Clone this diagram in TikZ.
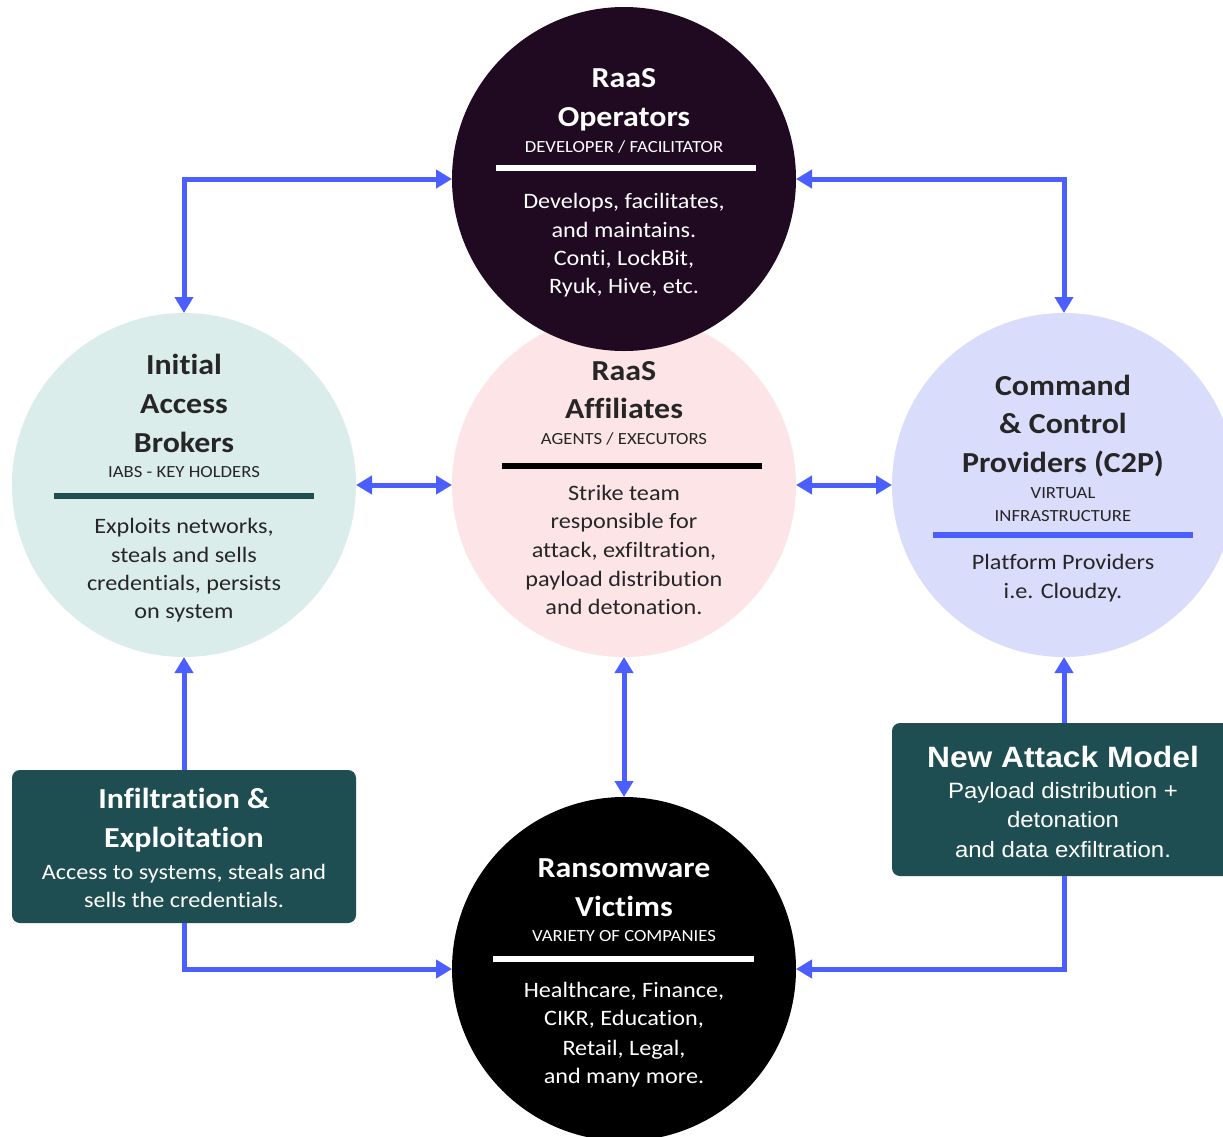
\documentclass[tikz,border=0pt]{standalone}
\usepackage{fontspec}
\setmainfont[FakeStretch=1.1, Ligatures=NoCommon]{Carlito}
\newfontfamily\arialf[FakeStretch=1.08]{Liberation Sans}
\usetikzlibrary{arrows.meta}
\definecolor{opfill}{HTML}{200A22}
\definecolor{iabfill}{HTML}{DBEDEA}
\definecolor{afffill}{HTML}{FDE5E7}
\definecolor{c2pfill}{HTML}{D9DDFB}
\definecolor{boxfill}{HTML}{1E4E51}
\definecolor{arrblue}{HTML}{4B5EFF}
\definecolor{darktxt}{HTML}{262626}
\tikzset{
  circ/.style={circle, minimum size=344pt, inner sep=0pt, outer sep=0pt, draw=none},
  rbox/.style={rectangle, rounded corners=8pt, minimum width=344pt, minimum height=153pt, inner sep=0pt, outer sep=0pt, fill=boxfill, draw=none},
  ttl/.style={font=\fontsize{29}{36}\selectfont\bfseries, inner sep=0pt},
  sub/.style={font=\fontsize{17}{20}\selectfont, inner sep=0pt},
  bod/.style={font=\fontsize{22}{26}\selectfont, inner sep=0pt},
  attl/.style={font=\arialf\fontsize{29.4}{34}\selectfont\bfseries, inner sep=0pt},
  abod/.style={font=\arialf\fontsize{22.2}{26}\selectfont, inner sep=0pt},
  arr/.style={draw=arrblue, line width=5pt, arrows={-Triangle[width=18pt,length=16pt]}},
  darr/.style={draw=arrblue, line width=5pt, arrows={Triangle[width=18pt,length=16pt]-Triangle[width=18pt,length=16pt]}},
  divider/.style={line width=5.5pt}
}
\newcommand\txtlines[4]{%
  \foreach \yy/\tline [count=\i] in {#4} {\node[#3, anchor=base] (#1-\i) at (#2,\yy) {\tline};}%
}
\begin{document}
\begin{tikzpicture}[x=1pt, y=-1pt]
\useasboundingbox (0,0) rectangle (1223,1136);
\fill[white] (0,0) rectangle (1223,1136);
% circles
\node[circ, fill=afffill] (aff) at (624,485) {};
\node[circ, fill=opfill] (op) at (624,179) {};
\node[circ, fill=iabfill] (iab) at (184,485) {};
\node[circ, fill=c2pfill] (c2p) at (1064,485) {};
\node[circ, fill=black] (vic) at (624,969) {};
% boxes
\node[rbox] (inf) at (184,846.5) {};
\node[rbox] (nam) at (1064,799.5) {};
% connectors
\draw[darr] (iab.north) |- (op.west);
\draw[darr] (op.east) -| (c2p.north);
\draw[darr] (iab.east) -- (aff.west);
\draw[darr] (aff.east) -- (c2p.west);
\draw[darr] (aff.south) -- (vic.north);
\draw[arr] (inf.north) -- (iab.south);
\draw[arr] (inf.south) |- (vic.west);
\draw[arr] (nam.north) -- (c2p.south);
\draw[arr] (nam.south) |- (vic.east);
% operators text
\txtlines{opt}{624}{ttl, text=white}{87/RaaS, 126/Operators}
\txtlines{ops}{624}{sub, text=white}{152/{DEVELOPER / FACILITATOR}}
\draw[divider, white] (496,168) -- (756,168);
\txtlines{opb}{624}{bod, text=white}{208/{Develops, facilitates,}, 237/{and maintains.}, 265/{Conti, LockBit,}, 293/{Ryuk, Hive, etc.}}
% IAB text
\txtlines{iat}{184}{ttl, text=darktxt}{374/Initial, 413/Access, 452/Brokers}
\txtlines{ias}{184}{sub, text=darktxt}{477/{IABS - KEY HOLDERS}}
\draw[divider, boxfill] (54,496) -- (314,496);
\txtlines{iab}{184}{bod, text=darktxt}{533/{Exploits networks,}, 562/{steals and sells}, 590/{credentials, persists}, 618/{on system}}
% affiliates text
\txtlines{aft}{624}{ttl, text=darktxt}{380/RaaS, 418/Affiliates}
\txtlines{afs}{624}{sub, text=darktxt}{444/{AGENTS / EXECUTORS}}
\draw[divider, black] (502,466) -- (762,466);
\txtlines{afb}{624}{bod, text=darktxt}{500/{Strike team}, 528/{responsible for}, 557/{attack, exfiltration,}, 586/{payload distribution}, 614/{and detonation.}}
% C2P text
\txtlines{cct}{1063}{ttl, text=darktxt}{395/Command, 433/{\& Control}, 472/{Providers (C2P)}}
\txtlines{ccs}{1063}{sub, text=darktxt}{498/VIRTUAL, 521/INFRASTRUCTURE}
\draw[divider, arrblue] (933,535) -- (1193,535);
\txtlines{ccb}{1063}{bod, text=darktxt}{569/{Platform Providers}, 598/{i.e. Cloudzy.}}
% victims text
\txtlines{vit}{624}{ttl, text=white}{877/Ransomware, 916/Victims}
\txtlines{vis}{624}{sub, text=white}{941/{VARIETY OF COMPANIES}}
\draw[divider, white] (493,959) -- (754,959);
\txtlines{vib}{624}{bod, text=white}{997/{Healthcare, Finance,}, 1025/{CIKR, Education,}, 1055/{Retail, Legal,}, 1083/{and many more.}}
% infiltration box text
\txtlines{int}{184}{ttl, text=white}{808/{Infiltration \&}, 847/Exploitation}
\txtlines{inb}{184}{bod, text=white}{879/{Access to systems, steals and}, 907/{sells the credentials.}}
% new attack model text
\txtlines{nmt}{1063}{attl, text=white}{767/{New Attack Model}}
\txtlines{nmb}{1063}{abod, text=white}{798/{Payload distribution +}, 827/detonation, 857/{and data exfiltration.}}
\end{tikzpicture}
\end{document}
